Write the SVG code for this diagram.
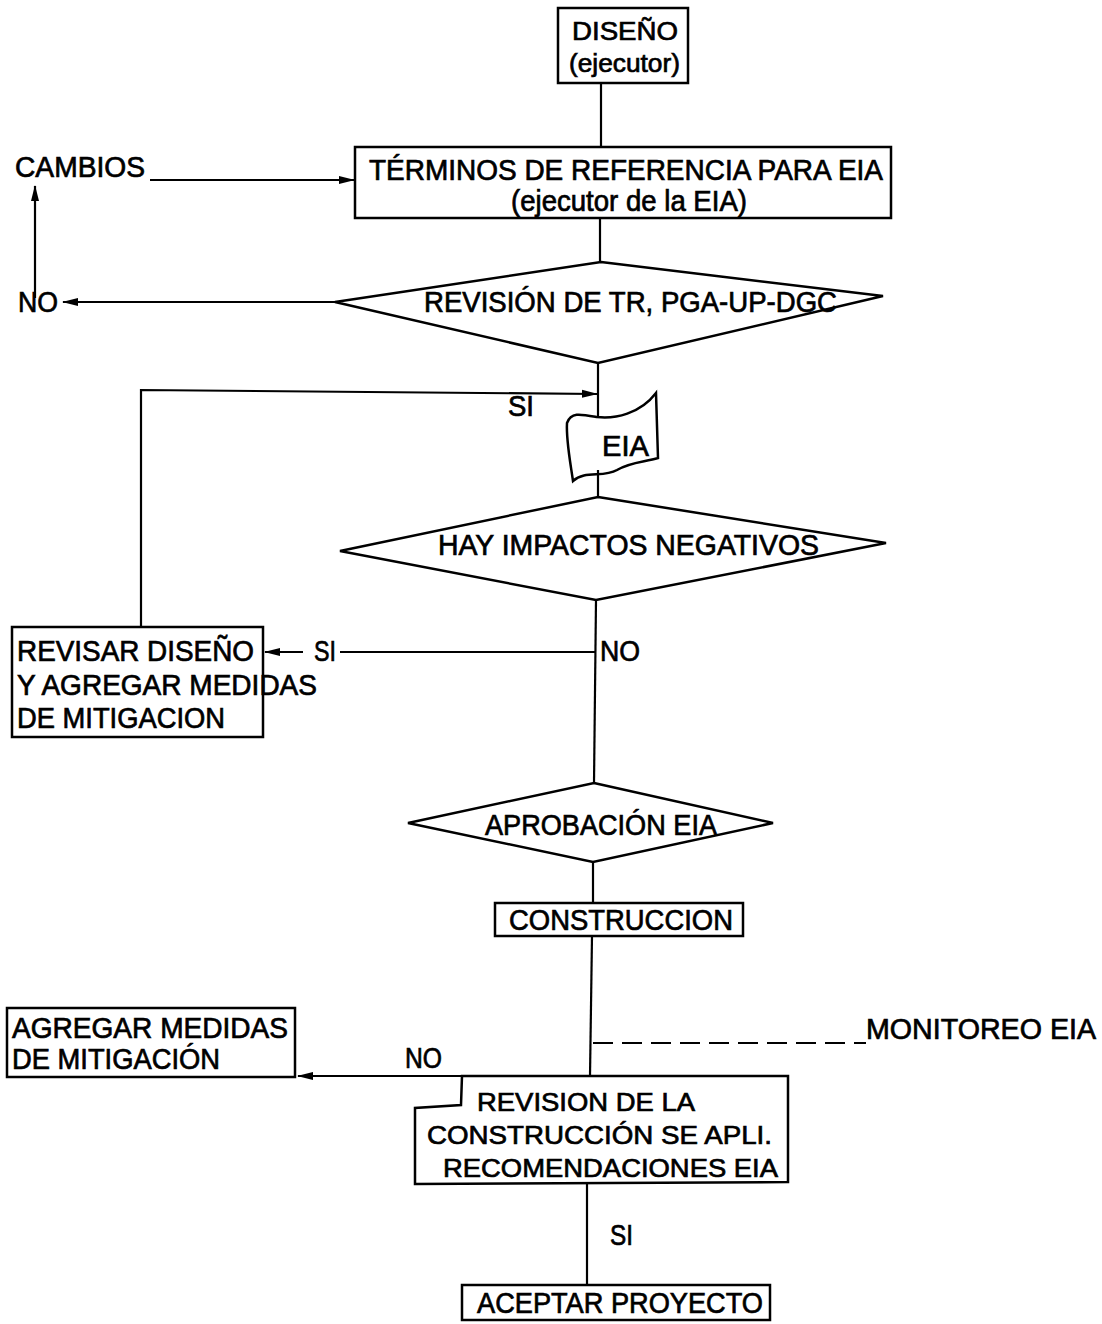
<svg xmlns="http://www.w3.org/2000/svg" width="1102" height="1324" viewBox="0 0 1102 1324">
<style>
.box{fill:none;stroke:#000;stroke-width:2.5}
.ln{fill:none;stroke:#000;stroke-width:2.2}
.dash{fill:none;stroke:#000;stroke-width:2;stroke-dasharray:20 9}
text{font-family:"Liberation Sans",Arial,sans-serif;font-size:29px;fill:#000;stroke:#000;stroke-width:0.7}
.sm{font-size:26px}
</style>
<defs>
<marker id="ah" viewBox="0 0 16 9" refX="15" refY="4.5" markerWidth="16" markerHeight="9" markerUnits="userSpaceOnUse" orient="auto">
<path d="M0,0.5 L16,4.5 L0,8.5 Z" fill="#000"/>
</marker>
</defs>
<rect width="1102" height="1324" fill="#fff"/>

<g id="connectors">
<line class="ln" x1="601" y1="83" x2="601" y2="147"/>
<line class="ln" x1="600" y1="218" x2="600" y2="262"/>
<line class="ln" x1="150" y1="180" x2="354" y2="180" marker-end="url(#ah)"/>
<line class="ln" x1="335" y1="302" x2="63" y2="302" marker-end="url(#ah)"/>
<line class="ln" x1="35" y1="298" x2="35" y2="186" marker-end="url(#ah)"/>
<line class="ln" x1="598" y1="363" x2="598" y2="416"/>
<polyline class="ln" points="141,627 141,390 597,394" marker-end="url(#ah)"/>
<line class="ln" x1="598" y1="470" x2="598" y2="497"/>
<line class="ln" x1="596" y1="600" x2="594" y2="783"/>
<line class="ln" x1="596" y1="652" x2="340" y2="652"/>
<line class="ln" x1="303" y1="652" x2="265" y2="652" marker-end="url(#ah)"/>
<line class="ln" x1="593" y1="862" x2="593" y2="903"/>
<line class="ln" x1="592" y1="936" x2="590" y2="1076"/>
<line class="dash" x1="593" y1="1043" x2="866" y2="1043"/>
<line class="ln" x1="462" y1="1076" x2="298" y2="1076" marker-end="url(#ah)"/>
<line class="ln" x1="587" y1="1183" x2="587" y2="1285"/>
</g>

<g id="n-diseno">
<rect class="box" x="558" y="8" width="130" height="75"/>
<text class="sm" x="572" y="40" textLength="106" lengthAdjust="spacingAndGlyphs">DISEÑO</text>
<text class="sm" x="569" y="72" textLength="111" lengthAdjust="spacingAndGlyphs">(ejecutor)</text>
</g>

<g id="n-terminos">
<rect class="box" x="355" y="147" width="536" height="71"/>
<text x="369" y="180" textLength="514" lengthAdjust="spacingAndGlyphs">TÉRMINOS DE REFERENCIA PARA EIA</text>
<text x="511" y="211" textLength="236" lengthAdjust="spacingAndGlyphs">(ejecutor de la EIA)</text>
</g>

<g id="n-cambios">
<text x="15" y="177" textLength="130" lengthAdjust="spacingAndGlyphs">CAMBIOS</text>
</g>

<g id="n-revision-tr">
<polygon class="box" points="601,262 883,296 598,363 335,302"/>
<text x="424" y="312" textLength="413" lengthAdjust="spacingAndGlyphs">REVISIÓN DE TR, PGA-UP-DGC</text>
</g>
<text x="18" y="312" textLength="40" lengthAdjust="spacingAndGlyphs">NO</text>
<text x="508" y="416" textLength="26" lengthAdjust="spacingAndGlyphs">SI</text>

<g id="n-eia">
<path class="box" d="M567,423 C571,412 580,414 597,417 C615,419 640,414 656,393 L658,458 C645,462 630,462 617,470 C603,478 585,470 573,481 C570,460 566,440 567,423 Z"/>
<text x="602" y="456" textLength="47" lengthAdjust="spacingAndGlyphs">EIA</text>
</g>

<g id="n-impactos">
<polygon class="box" points="598,497 886,543 596,600 340,551"/>
<text x="438" y="555" textLength="381" lengthAdjust="spacingAndGlyphs">HAY IMPACTOS NEGATIVOS</text>
</g>
<text x="314" y="661" textLength="22" lengthAdjust="spacingAndGlyphs">SI</text>
<text x="600" y="661" textLength="40" lengthAdjust="spacingAndGlyphs">NO</text>

<g id="n-revisar">
<rect class="box" x="12" y="627" width="251" height="110"/>
<text x="17" y="661" textLength="237" lengthAdjust="spacingAndGlyphs">REVISAR DISEÑO</text>
<text x="17" y="695" textLength="300" lengthAdjust="spacingAndGlyphs">Y AGREGAR MEDIDAS</text>
<text x="17" y="728" textLength="208" lengthAdjust="spacingAndGlyphs">DE MITIGACION</text>
</g>

<g id="n-aprobacion">
<polygon class="box" points="594,783 773,823 593,862 408,823"/>
<text x="485" y="835" textLength="232" lengthAdjust="spacingAndGlyphs">APROBACIÓN EIA</text>
</g>

<g id="n-construccion">
<rect class="box" x="495" y="903" width="248" height="33"/>
<text x="509" y="930" textLength="224" lengthAdjust="spacingAndGlyphs">CONSTRUCCION</text>
</g>

<g id="n-monitoreo">
<text x="866" y="1039" textLength="230" lengthAdjust="spacingAndGlyphs">MONITOREO EIA</text>
</g>

<g id="n-agregar">
<rect class="box" x="7" y="1008" width="288" height="69"/>
<text x="12" y="1038" textLength="276" lengthAdjust="spacingAndGlyphs">AGREGAR MEDIDAS</text>
<text x="12" y="1069" textLength="208" lengthAdjust="spacingAndGlyphs">DE MITIGACIÓN</text>
</g>
<text x="405" y="1068" textLength="37" lengthAdjust="spacingAndGlyphs">NO</text>

<g id="n-revision-construccion">
<polygon class="box" points="462,1076 788,1076 788,1182 415,1184 415,1108 461,1105"/>
<text class="sm" x="477" y="1111" textLength="218" lengthAdjust="spacingAndGlyphs">REVISION DE LA</text>
<text class="sm" x="427" y="1144" textLength="345" lengthAdjust="spacingAndGlyphs">CONSTRUCCIÓN SE APLI.</text>
<text class="sm" x="443" y="1177" textLength="335" lengthAdjust="spacingAndGlyphs">RECOMENDACIONES EIA</text>
</g>
<text x="610" y="1245" textLength="23" lengthAdjust="spacingAndGlyphs">SI</text>

<g id="n-aceptar">
<rect class="box" x="462" y="1285" width="308" height="35"/>
<text x="477" y="1313" textLength="286" lengthAdjust="spacingAndGlyphs">ACEPTAR PROYECTO</text>
</g>
</svg>
